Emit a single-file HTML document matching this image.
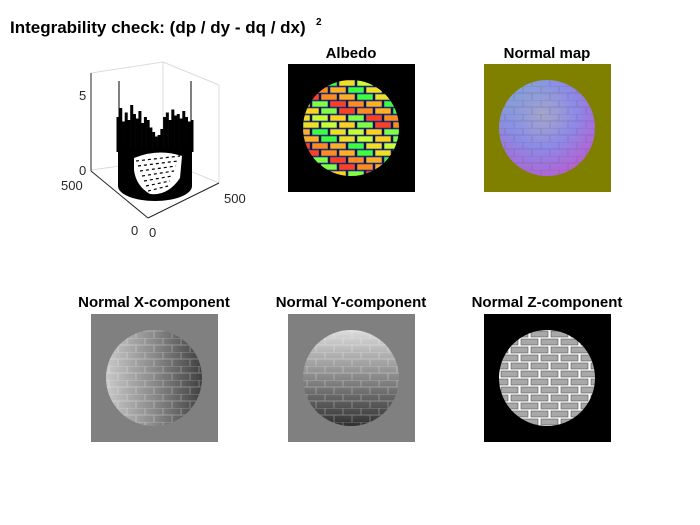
<!DOCTYPE html>
<html><head><meta charset="utf-8"><style>
html,body{margin:0;padding:0;background:#fff;}
svg{display:block;font-family:"Liberation Sans",Arial,sans-serif;}
.t{font-weight:bold;font-size:15px;text-anchor:middle;fill:#000;}
.tk{font-size:13px;fill:#262626;}
</style></head><body>
<svg id="fig" width="700" height="525" viewBox="0 0 700 525">
<defs>
 <clipPath id="cA"><circle cx="351" cy="128" r="48"/></clipPath>
 <clipPath id="cN"><circle cx="547" cy="128" r="48"/></clipPath>
 <clipPath id="cX"><circle cx="154" cy="378" r="48"/></clipPath>
 <clipPath id="cY"><circle cx="351" cy="378" r="48"/></clipPath>
 <radialGradient id="gN" cx="0.45" cy="0.35" r="0.7">
  <stop offset="0" stop-color="#a8a8c8"/><stop offset="0.5" stop-color="#8c8ce8"/><stop offset="1" stop-color="#b060d0"/>
 </radialGradient>
 <linearGradient id="gN2" x1="0" y1="0" x2="1" y2="1">
  <stop offset="0" stop-color="#70e0a0" stop-opacity="0.5"/><stop offset="0.5" stop-color="#8080ff" stop-opacity="0"/><stop offset="1" stop-color="#ff40c0" stop-opacity="0.35"/>
 </linearGradient>
 <linearGradient id="gX" x1="0" y1="0" x2="1" y2="0">
  <stop offset="0" stop-color="#c8c8c8"/><stop offset="0.5" stop-color="#8a8a8a"/><stop offset="1" stop-color="#404040"/>
 </linearGradient>
 <linearGradient id="gY" x1="0" y1="0" x2="0" y2="1">
  <stop offset="0" stop-color="#dcdcdc"/><stop offset="0.5" stop-color="#888"/><stop offset="1" stop-color="#303030"/>
 </linearGradient>
 <pattern id="pB" width="18" height="14" patternUnits="userSpaceOnUse" x="0" y="2">
  <path d="M0 0H18M0 7H18M1 0V7M10 7V14" stroke="#fff" stroke-opacity="0.3" stroke-width="1" fill="none"/>
 </pattern>
 <pattern id="pBd" width="18" height="14" patternUnits="userSpaceOnUse" x="0" y="2">
  <path d="M0 0H18M0 7H18M1 0V7M10 7V14" stroke="#606080" stroke-opacity="0.35" stroke-width="1" fill="none"/>
 </pattern>
 <pattern id="pZ" width="20" height="16" patternUnits="userSpaceOnUse" x="0" y="2">
  <rect width="20" height="16" fill="#fff"/>
  <rect x="1" y="1" width="17" height="6" fill="#a8a8a8" stroke="#555" stroke-width="0.6"/>
  <rect x="-9" y="9" width="17" height="6" fill="#a8a8a8" stroke="#555" stroke-width="0.6"/>
  <rect x="11" y="9" width="17" height="6" fill="#a8a8a8" stroke="#555" stroke-width="0.6"/>
 </pattern>
</defs>

<g>
 <text x="10" y="33" style="font-weight:bold;font-size:17px">Integrability check: (dp / dy - dq / dx)</text>
 <text x="316" y="25" style="font-weight:bold;font-size:10px">2</text>
 <g stroke="#dcdcdc" stroke-width="1" fill="none">
  <line x1="163" y1="62" x2="163" y2="160"/>
  <line x1="91" y1="73" x2="163" y2="62"/>
  <line x1="163" y1="62" x2="219" y2="85"/>
  <line x1="219" y1="85" x2="219" y2="183"/>
  <line x1="91" y1="170" x2="163" y2="160"/>
  <line x1="163" y1="160" x2="219" y2="183"/>
 </g>
 <g stroke="#262626" stroke-width="1" fill="none">
  <line x1="91" y1="73" x2="91" y2="171"/>
  <line x1="91" y1="171" x2="148" y2="218"/>
  <line x1="148" y1="218" x2="219" y2="183"/>
 </g>
 <g id="spikes"></g>
 <text class="tk" x="79" y="100">5</text>
 <text class="tk" x="79" y="175">0</text>
 <text class="tk" x="61" y="190">500</text>
 <text class="tk" x="131" y="235">0</text>
 <text class="tk" x="149" y="237">0</text>
 <text class="tk" x="224" y="203">500</text>
</g>

<g>
 <text class="t" x="351" y="58">Albedo</text>
 <rect x="288" y="64" width="127" height="128" fill="#000"/>
 <g id="albedoBricks" clip-path="url(#cA)"></g>
</g>

<g>
 <text class="t" x="547" y="58">Normal map</text>
 <rect x="484" y="64" width="127" height="128" fill="#808000"/>
 <circle cx="547" cy="128" r="48" fill="url(#gN)"/>
 <circle cx="547" cy="128" r="48" fill="url(#gN2)"/>
 <rect x="499" y="80" width="96" height="96" fill="url(#pBd)" clip-path="url(#cN)"/>
</g>

<g>
 <text class="t" x="154" y="307">Normal X-component</text>
 <rect x="91" y="314" width="127" height="128" fill="#808080"/>
 <circle cx="154" cy="378" r="48" fill="url(#gX)"/>
 <rect x="106" y="330" width="96" height="96" fill="url(#pB)" clip-path="url(#cX)"/>
</g>

<g>
 <text class="t" x="351" y="307">Normal Y-component</text>
 <rect x="288" y="314" width="127" height="128" fill="#808080"/>
 <circle cx="351" cy="378" r="48" fill="url(#gY)"/>
 <rect x="303" y="330" width="96" height="96" fill="url(#pB)" clip-path="url(#cY)"/>
</g>

<g>
 <text class="t" x="547" y="307">Normal Z-component</text>
 <rect x="484" y="314" width="127" height="128" fill="#000"/>
 <circle cx="547" cy="378" r="48" fill="url(#pZ)"/>
</g>
</svg>
<script>
var rimHeights = [2.2,2.8,1.9,2.5,2.0,3.0,2.4,2.1,2.6,1.8,2.2,2.0,1.5,1.2,0.9,1.0,1.4,2.2,2.5,2.0,2.7,2.3,2.4,2.1,2.6,2.2,1.9,2.0];
var tallSpikes = [[0,6.6],[1,6.6]];
var zTicks = [0,5];
var NS='http://www.w3.org/2000/svg';
function zToY(z, base){ return base - z*15; }
var g=document.getElementById('spikes');
function el(tag,attrs,parent){var e=document.createElementNS(NS,tag);for(var k in attrs)e.setAttribute(k,attrs[k]);parent.appendChild(e);return e;}
var body=el('path',{d:'M118 148 L118 186 A37 15 0 0 0 192 186 L192 148 Z',fill:'#000'},g);


var n=rimHeights.length;
for(var i=0;i<n;i++){
  var x=118+i*(74/(n-1));
  var base=150;
  var ln=el('rect',{x:x-1.5,y:zToY(rimHeights[i],base),width:3,height:base-zToY(rimHeights[i],base)+2,fill:'#000'},g);
  
  
}
tallSpikes.forEach(function(s){
  var x=s[0]===0?119:191;
  var ln=el('line',{x1:x,y1:zToY(s[1],180),x2:x,y2:180,stroke:'#000','stroke-width':1},g);
  
  
});
var fl=el('path',{d:'M134 158 Q158 148 182 156 L180 178 Q168 196 150 194 Q136 186 134 170 Z',fill:'#fff'},g);


for(var r=0;r<7;r++){
  var yy=158+r*5;
  var ln2=el('line',{x1:136+r*2,y1:yy+3,x2:180-r*2,y2:yy-2,stroke:'#000','stroke-width':1.2,'stroke-dasharray':'3 3'},g);
  
  
}
var palette=['#ff8c1a','#ffd21a','#3cff3c','#ff4020','#c8ff30','#ffb020','#80ff40','#f0e020'];
var ab=document.getElementById('albedoBricks');
var k=0;
for(var row=0;row<14;row++){
  var y=80+row*7;
  var off=(row%2)*9;
  for(var c=-1;c<7;c++){
    var x=303+c*18+off;
    var b=el('rect',{x:x,y:y,width:16,height:6,fill:palette[(k*5+row*3)%palette.length],stroke:'#3040a0','stroke-width':0.7},ab);
    
    
    k++;
  }
}
</script>
</body></html>
